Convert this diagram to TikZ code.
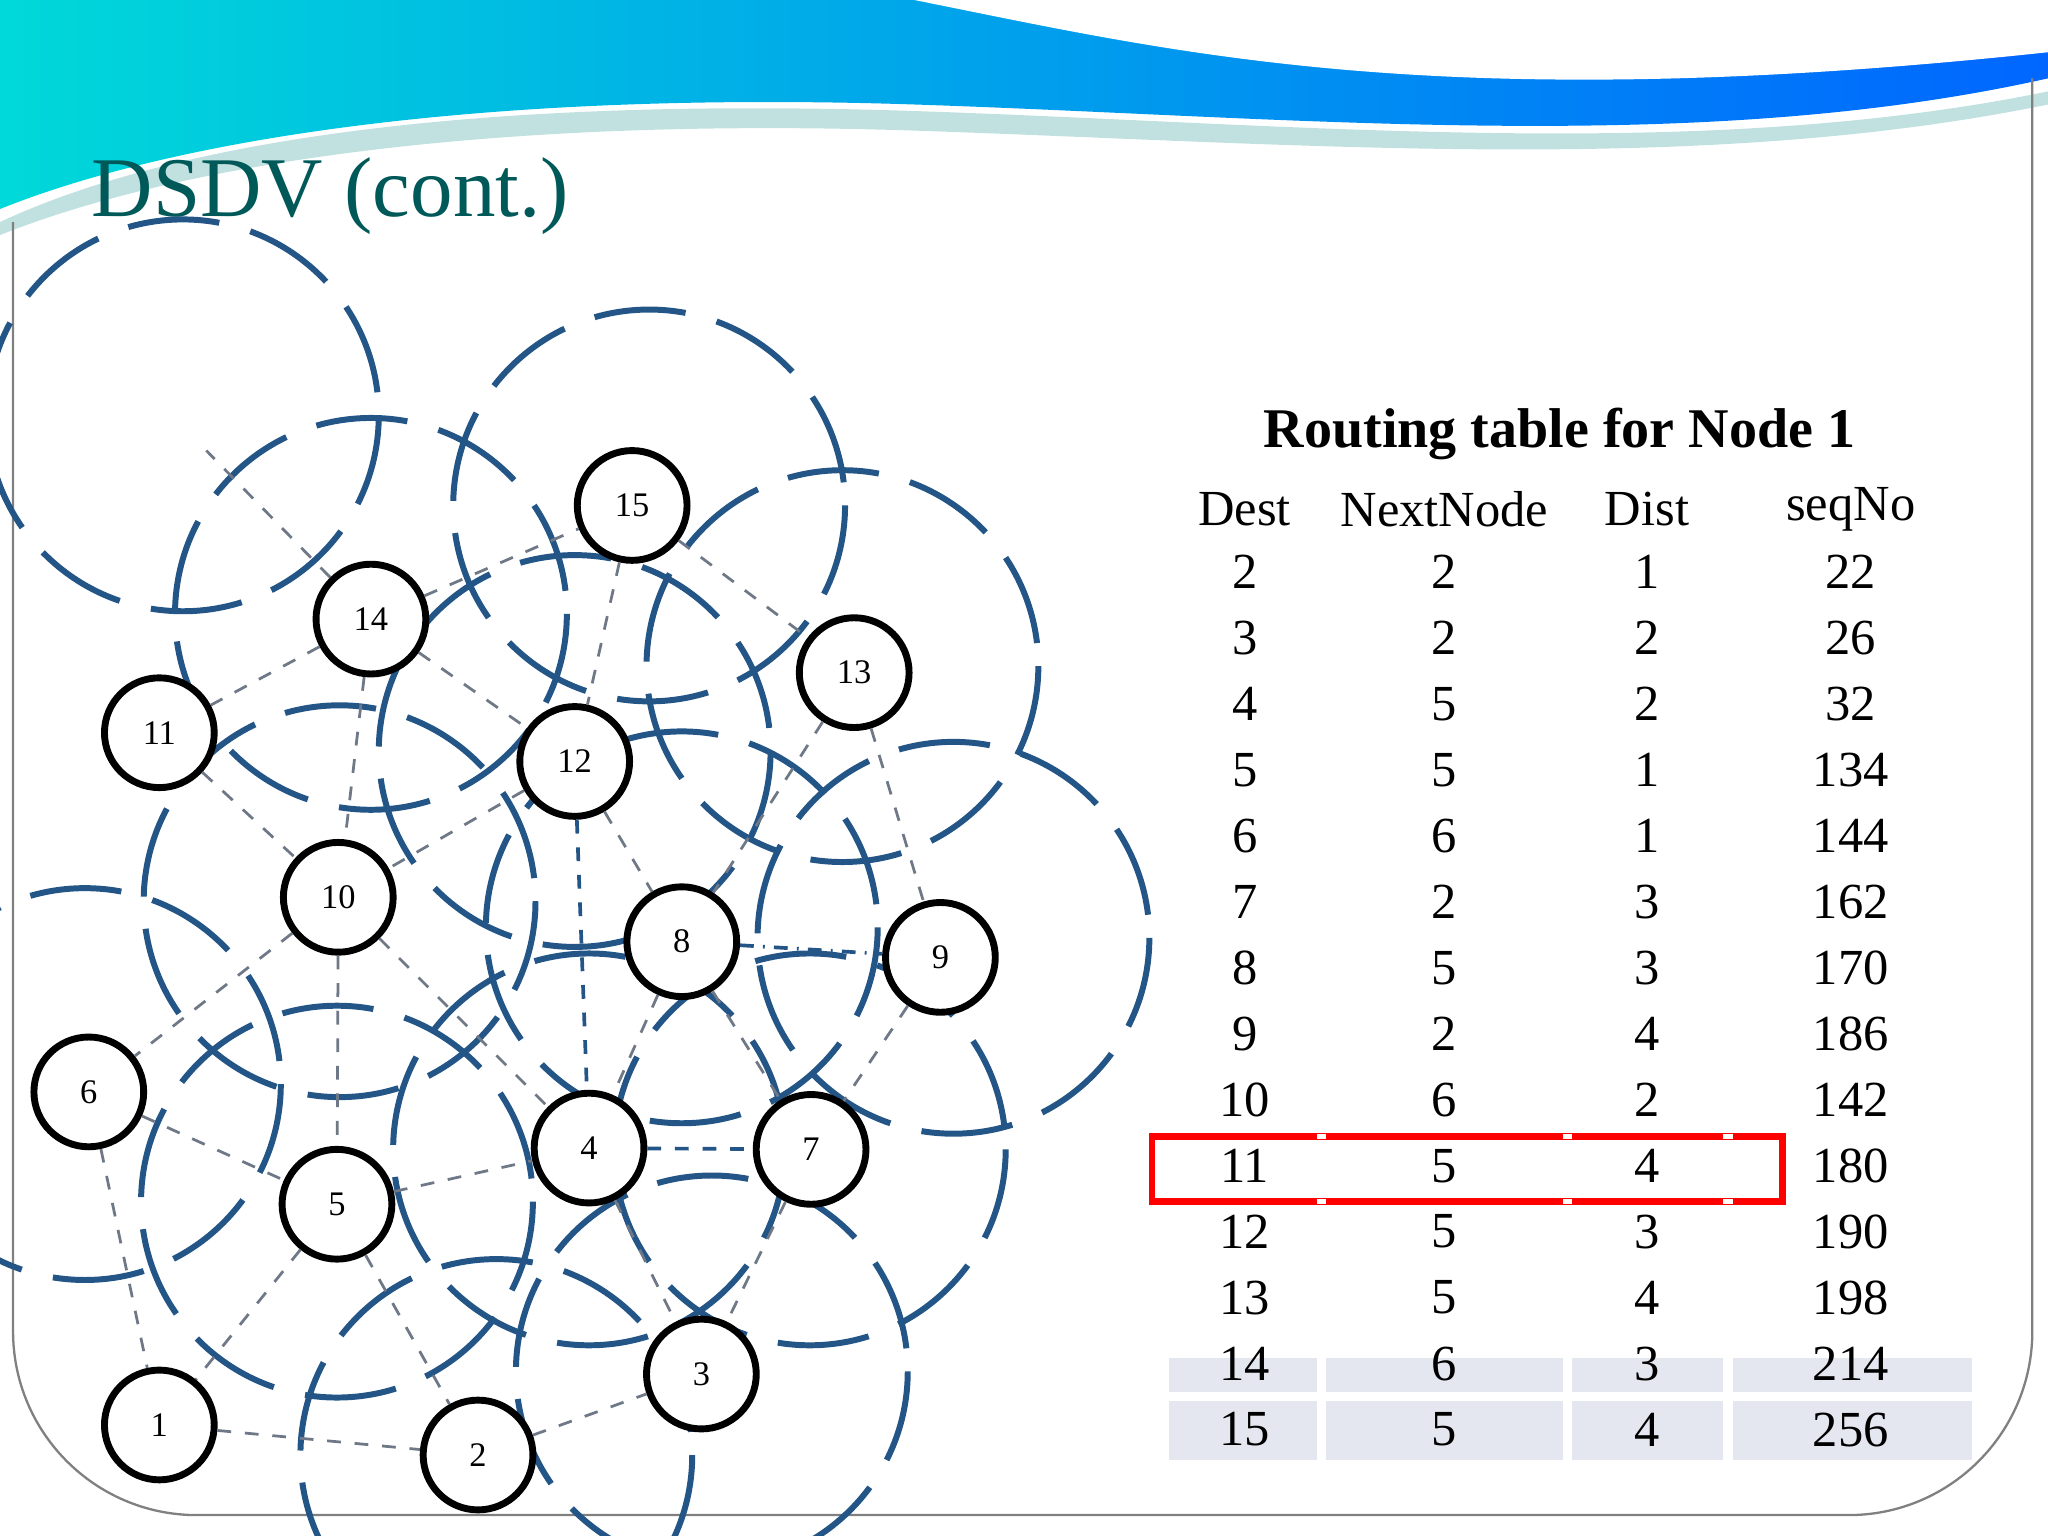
\documentclass[tikz,border=0pt]{standalone}
\usepackage{fontspec}
\setmainfont{Liberation Serif}
\definecolor{cb}{RGB}{35,85,135}
\definecolor{rowg}{RGB}{228,231,240}
\definecolor{eg}{RGB}{110,120,135}
\begin{document}
\begin{tikzpicture}[x=0.01cm,y=-0.01cm,
  nd/.style={circle,draw,line width=1.5pt,fill=white,minimum size=0.84cm,inner sep=0pt,font=\fontsize{7.5}{7.5}\selectfont},
  ed/.style={draw=eg,dashed,line width=0.6pt},
  be/.style={draw=cb,dashed,line width=0.8pt},
  rc/.style={draw=cb,line width=1.3pt,dash pattern=on 20pt off 7pt},
  tc/.style={font=\fontsize{11}{11}\selectfont}]
\useasboundingbox (0,0) rectangle (1568,1176);
\fill[white] (0,0) rectangle (1568,1176);
% header
\shade[left color=cyan!70!teal,right color=blue!60!cyan] (0,0) -- (1568,0) -- (1568,60) .. controls (1300,120) and (1000,90) .. (700,80) .. controls (400,70) and (150,100) .. (0,160) -- cycle;
\fill[teal!40!white,opacity=0.6] (0,170) .. controls (150,100) and (400,75) .. (700,85) .. controls (1000,95) and (1300,125) .. (1568,70) -- (1568,80) .. controls (1300,135) and (1000,110) .. (700,100) .. controls (400,90) and (150,120) .. (0,180) -- cycle;
\fill[white] (700,0) .. controls (900,40) and (1100,90) .. (1568,40) -- (1568,0) -- cycle;
\draw[gray,line width=0.5pt,rounded corners=40pt] (10,170) -- (10,1160) -- (1556,1160) -- (1556,60);
\node[anchor=west,text=teal!70!black,font=\fontsize{18.5}{18.5}\selectfont] (title) at (58,150) {DSDV (cont.)};
% circles
\begin{scope}
\clip (0,0) rectangle (1568,1176);
\foreach \p in {(140,318),(497,387),(284,470),(645,510),(440,575),(260,690),(522,710),(730,718),(65,830),(451,880),(620,880),(258,920),(545,1050),(380,1114)}
  \draw[rc] \p circle (150);
\end{scope}
% nodes
\node[nd] (n15) at (484,387) {15};
\node[nd] (n14) at (284,474) {14};
\node[nd] (n13) at (654,515) {13};
\node[nd] (n11) at (122,561) {11};
\node[nd] (n12) at (440,583) {12};
\node[nd] (n10) at (259,687) {10};
\node[nd] (n8) at (522,721) {8};
\node[nd] (n9) at (720,733) {9};
\node[nd] (n6) at (68,836) {6};
\node[nd] (n4) at (451,879) {4};
\node[nd] (n7) at (621,880) {7};
\node[nd] (n5) at (258,922) {5};
\node[nd] (n3) at (537,1052) {3};
\node[nd] (n1) at (122,1091) {1};
\node[nd] (n2) at (366,1114) {2};
\coordinate (free) at (158,345);
\foreach \a/\b in {n14/n15,n15/n13,n15/n12,n14/n11,n14/n12,n14/n10,n14/free,n11/n10,n12/n10,n12/n8,n13/n8,n13/n9,n8/n4,n8/n7,n10/n4,n10/n5,n10/n6,n6/n5,n6/n1,n5/n4,n5/n1,n5/n2,n4/n3,n7/n3,n9/n7,n1/n2,n2/n3}
  \draw[ed] (\a) -- (\b);
\draw[be] (n12) -- (n4);
\draw[be] (n4) -- (n7);
\draw[draw=cb,dash dot,line width=0.8pt] (n8) -- (n9);
% table
\node[font=\bfseries\fontsize{12.2}{12.2}\selectfont] (tt) at (1194,332) {Routing table for Node 1};
\fill[rowg] (895,1040) rectangle (1510,1118);
\draw[white,line width=2pt] (895,1069) -- (1510,1069) (1012,1040) -- (1012,1118) (1200,1040) -- (1200,1118) (1323,1040) -- (1323,1118);
\node[tc] (h1) at (953,390) {Dest};
\node[tc] (h2) at (1106,390) {NextNode};
\node[tc] (h3) at (1261,390) {Dist};
\node[tc] (h4) at (1417,390) {seqNo};
\foreach \d/\n/\s/\q [count=\i from 0] in {2/2/1/22,3/2/2/26,4/5/2/32,5/5/1/134,6/6/1/144,7/2/3/162,8/5/3/170,9/2/4/186,10/6/2/142,11/5/4/180,12/5/3/190,13/5/4/198,14/6/3/214,15/5/4/256}{
  \node[tc] (d\i) at (953,438+50.5*\i) {\d};
  \node[tc] (x\i) at (1106,438+50.5*\i) {\n};
  \node[tc] (s\i) at (1261,438+50.5*\i) {\s};
  \node[tc] (q\i) at (1417,438+50.5*\i) {\q};
}
\draw[red,line width=1.5pt] (882,870) rectangle (1365,920);
\draw[white,line width=2pt] (1012,868) -- (1012,872) (1200,868) -- (1200,872) (1323,868) -- (1323,872) (1012,918) -- (1012,922) (1200,918) -- (1200,922) (1323,918) -- (1323,922);
\end{tikzpicture}
\end{document}
